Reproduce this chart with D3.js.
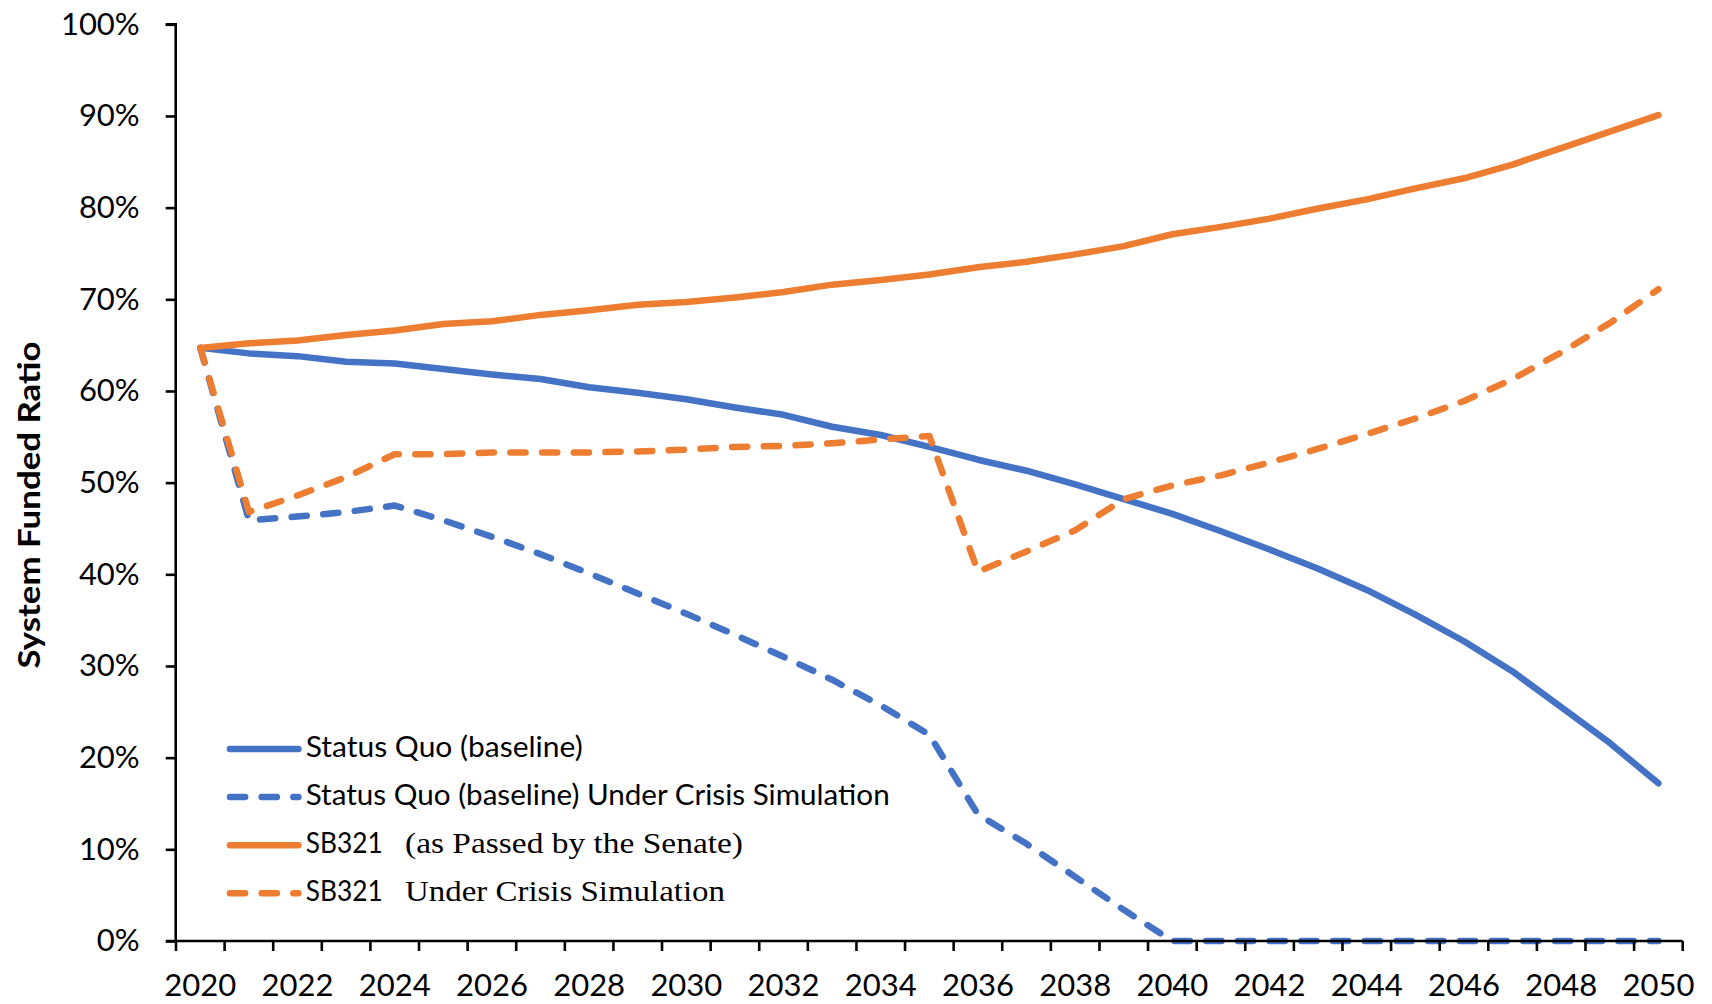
<!DOCTYPE html>
<html>
<head>
<meta charset="utf-8">
<script src="https://cdn.jsdelivr.net/npm/d3@7"></script>
<style>
  html, body { margin: 0; padding: 0; background: #fff; }
  svg { display: block; }
  text { font-family: Lato, "Open Sans", sans-serif; fill: #000; }
</style>
</head>
<body>
<svg id="chart" width="1712" height="1004"></svg>
<script>
// Projection years
const years = d3.range(2020, 2051);

// System funded ratio (fraction) per year
const statusQuo = [
  0.647, 0.641, 0.638, 0.632, 0.630, 0.624, 0.618, 0.613, 0.604, 0.598,
  0.591, 0.582, 0.574, 0.561, 0.552, 0.539, 0.525, 0.513, 0.498, 0.482,
  0.466, 0.447, 0.427, 0.406, 0.383, 0.356, 0.327, 0.294, 0.255, 0.216, 0.172
];
const statusQuoCrisis = [
  0.647, 0.459, 0.463, 0.468, 0.475, 0.459, 0.441, 0.422, 0.401, 0.379,
  0.357, 0.334, 0.310, 0.285, 0.257, 0.225, 0.138, 0.106, 0.070, 0.034,
  0.000, 0.000, 0.000, 0.000, 0.000, 0.000, 0.000, 0.000, 0.000, 0.000, 0.000
];
const sb321 = [
  0.647, 0.652, 0.655, 0.661, 0.666, 0.673, 0.676, 0.683, 0.688, 0.694,
  0.697, 0.702, 0.708, 0.716, 0.721, 0.727, 0.735, 0.741, 0.749, 0.758,
  0.771, 0.779, 0.788, 0.799, 0.809, 0.821, 0.832, 0.847, 0.865, 0.883, 0.901
];
const sb321Crisis = [
  0.647, 0.468, 0.486, 0.506, 0.531, 0.531, 0.533, 0.533, 0.533, 0.534,
  0.536, 0.539, 0.540, 0.543, 0.547, 0.551, 0.403, 0.425, 0.448, 0.482,
  0.497, 0.508, 0.522, 0.537, 0.553, 0.570, 0.589, 0.613, 0.642, 0.674, 0.711
];

// Y-axis tick values
const yTicks = d3.range(0, 1.0001, 0.1);
// X-axis labelled years
const xLabelYears = years.filter(y => (y - 2020) % 2 === 0);

// Legend entries
const legendNames = [
  "Status Quo (baseline)",
  "Status Quo (baseline) Under Crisis Simulation",
  "SB321",
  "SB321"
];
const legendSerifParts = ["", "", "(as Passed by the Senate)", "Under Crisis Simulation"];

const BLUE = "#4472C4", ORANGE = "#ED7D31";
const series = [
  { values: statusQuo, color: BLUE, dashed: false },
  { values: statusQuoCrisis, color: BLUE, dashed: true },
  { values: sb321, color: ORANGE, dashed: false },
  { values: sb321Crisis, color: ORANGE, dashed: true }
];

const svg = d3.select("#chart");
const plotLeft = 176, plotRight = 1682.7, plotTop = 24.3, plotBottom = 941;

const x = d3.scaleBand().domain(years).range([plotLeft, plotRight]).padding(0);
const y = d3.scaleLinear().domain([0, 1]).range([plotBottom, plotTop]);
const cx = yr => x(yr) + x.bandwidth() / 2;

const LW = 6.5;
const DASH = "15.2 16.5";

// Lines
const line = d3.line()
  .x((d, i) => cx(years[i]))
  .y(d => y(d));

const gLines = svg.append("g");
series.forEach(s => {
  gLines.append("path")
    .datum(s.values)
    .attr("d", line)
    .attr("fill", "none")
    .attr("stroke", s.color)
    .attr("stroke-width", LW)
    .attr("stroke-linejoin", "round")
    .attr("stroke-linecap", "round")
    .attr("stroke-dasharray", s.dashed ? DASH : null);
});

// Y axis
const yAxis = d3.axisLeft(y)
  .tickValues(yTicks)
  .tickFormat(d3.format(".0%"))
  .tickSize(10)
  .tickPadding(26);
const gy = svg.append("g").attr("transform", `translate(${plotLeft - 0.3},0)`).call(yAxis);
gy.select(".domain").attr("stroke", "#000").attr("stroke-width", 2.6)
  .attr("d", `M-10,${plotTop}H0V${plotBottom}`);
gy.selectAll(".tick line").attr("stroke", "#000").attr("stroke-width", 2.6);
gy.selectAll(".tick text").style("font-family", "Lato").style("font-size", "31px");

// X axis: boundary ticks between years, labels every other year
const boundaries = years.map(yr => x(yr)).concat([plotRight]);
const gx = svg.append("g").attr("transform", `translate(0,${plotBottom})`);
gx.append("line")
  .attr("x1", plotLeft - 10).attr("x2", plotRight)
  .attr("y1", 0).attr("y2", 0)
  .attr("stroke", "#000").attr("stroke-width", 2.6);
gx.selectAll("line.bt").data(boundaries).enter().append("line")
  .attr("class", "bt")
  .attr("x1", d => d).attr("x2", d => d)
  .attr("y1", 0).attr("y2", 10)
  .attr("stroke", "#000").attr("stroke-width", 2.6);

const xAxis = d3.axisBottom(x)
  .tickValues(xLabelYears)
  .tickFormat(d3.format("d"))
  .tickSize(0)
  .tickPadding(33);
const gxl = svg.append("g").attr("transform", `translate(0,${plotBottom})`).call(xAxis);
gxl.select(".domain").remove();
gxl.selectAll(".tick text").style("font-family", "Lato").style("font-size", "31px");

// Y-axis title
svg.append("text")
  .attr("transform", "translate(40,505) rotate(-90)")
  .attr("text-anchor", "middle")
  .attr("textLength", 327)
  .attr("lengthAdjust", "spacingAndGlyphs")
  .style("font-family", "Lato")
  .style("font-weight", "bold")
  .style("font-size", "30px")
  .text("System Funded Ratio");

// Legend
const legendY = d3.scalePoint().domain(d3.range(4)).range([749, 893.3]);
const sansWidths = [277, 584, 77, 77];
const serifWidths = [0, 0, 338, 320];
const gLeg = svg.append("g");
series.forEach((s, i) => {
  const ly = legendY(i);
  gLeg.append("line")
    .attr("x1", 226.7 + LW / 2).attr("x2", 301.7 - LW / 2)
    .attr("y1", ly).attr("y2", ly)
    .attr("stroke", s.color)
    .attr("stroke-width", LW)
    .attr("stroke-linecap", "round")
    .attr("stroke-dasharray", s.dashed ? DASH : null);
  gLeg.append("text")
    .attr("x", 305.7).attr("y", ly + 7.5)
    .attr("textLength", sansWidths[i])
    .attr("lengthAdjust", "spacingAndGlyphs")
    .style("font-family", "Lato")
    .style("font-size", "28px")
    .text(legendNames[i]);
  if (legendSerifParts[i]) {
    gLeg.append("text")
      .attr("x", 405).attr("y", ly + 7.5)
      .attr("textLength", serifWidths[i])
      .attr("lengthAdjust", "spacingAndGlyphs")
      .style("font-family", "'Liberation Serif', serif")
      .style("font-size", "30px")
      .text(legendSerifParts[i]);
  }
});
</script>
</body>
</html>
